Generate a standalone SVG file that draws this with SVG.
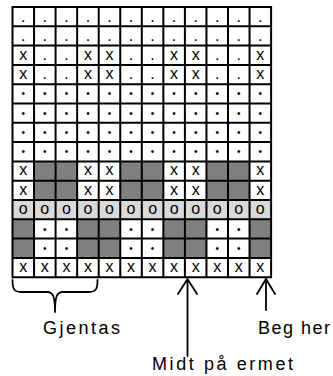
<svg xmlns="http://www.w3.org/2000/svg" width="333" height="376" viewBox="0 0 333 376">
<style>
.c{font-family:"Liberation Sans",Arial,sans-serif;font-size:16px;fill:#000;text-anchor:middle}
.b{font-family:"Liberation Sans",Arial,sans-serif;font-size:10px;fill:#000;text-anchor:middle}
.lbl{font-family:"Liberation Sans",Arial,sans-serif;font-size:18px;fill:#000}
.dk{fill:#808080}
.lt{fill:#d9d9d9}
.grid{stroke:#000;stroke-width:2;fill:none}
.ln{stroke:#000;stroke-width:1.8;fill:none;stroke-linecap:round;stroke-linejoin:round}
</style>
<rect width="333" height="376" fill="#fff"/>
<g id="chart">
<g id="fills">
<rect class="dk" x="34.05" y="161.4" width="43.1" height="38.6"/>
<rect class="dk" x="120.25" y="161.4" width="43.1" height="38.6"/>
<rect class="dk" x="206.45" y="161.4" width="43.1" height="38.6"/>
<rect class="lt" x="12.5" y="200" width="258.6" height="19.3"/>
<rect class="dk" x="12.5" y="219.3" width="21.55" height="38.6"/>
<rect class="dk" x="77.15" y="219.3" width="43.1" height="38.6"/>
<rect class="dk" x="163.35" y="219.3" width="43.1" height="38.6"/>
<rect class="dk" x="249.55" y="219.3" width="21.55" height="38.6"/>
</g>
<g id="row1"><text class="c" x="23.3 44.8 66.4 87.9 109.5 131 152.6 174.1 195.7 217.2 238.8 260.3" y="21.5">............</text></g>
<g id="row2"><text class="c" x="23.3 44.8 66.4 87.9 109.5 131 152.6 174.1 195.7 217.2 238.8 260.3" y="40.8">............</text></g>
<g id="row3"><text class="c" x="23.3 44.8 66.4 87.9 109.5 131 152.6 174.1 195.7 217.2 238.8 260.3" y="59.6">x..xx..xx..x</text></g>
<g id="row4"><text class="c" x="23.3 44.8 66.4 87.9 109.5 131 152.6 174.1 195.7 217.2 238.8 260.3" y="78.9">x..xx..xx..x</text></g>
<g id="row5"><text class="b" x="23.3 44.8 66.4 87.9 109.5 131 152.6 174.1 195.7 217.2 238.8 260.3" y="97.4">••••••••••••</text></g>
<g id="row6"><text class="b" x="23.3 44.8 66.4 87.9 109.5 131 152.6 174.1 195.7 217.2 238.8 260.3" y="116.7">••••••••••••</text></g>
<g id="row7"><text class="b" x="23.3 44.8 66.4 87.9 109.5 131 152.6 174.1 195.7 217.2 238.8 260.3" y="136">••••••••••••</text></g>
<g id="row8"><text class="b" x="23.3 44.8 66.4 87.9 109.5 131 152.6 174.1 195.7 217.2 238.8 260.3" y="155.3">••••••••••••</text></g>
<g id="row9"><text class="c" x="23.3 87.9 109.5 174.1 195.7 260.3" y="175.4">xxxxxx</text></g>
<g id="row10"><text class="c" x="23.3 87.9 109.5 174.1 195.7 260.3" y="194.7">xxxxxx</text></g>
<g id="row11"><text class="c" x="23.3 44.8 66.4 87.9 109.5 131 152.6 174.1 195.7 217.2 238.8 260.3" y="214.2">oooooooooooo</text></g>
<g id="row12"><text class="b" x="44.8 66.4 131 152.6 217.2 238.8" y="232.6">••••••</text></g>
<g id="row13"><text class="b" x="44.8 66.4 131 152.6 217.2 238.8" y="251.9">••••••</text></g>
<g id="row14"><text class="c" x="23.3 44.8 66.4 87.9 109.5 131 152.6 174.1 195.7 217.2 238.8 260.3" y="272">xxxxxxxxxxxx</text></g>
<path class="grid" d="M12.5 7V277.2M34.05 7V277.2M55.6 7V277.2M77.15 7V277.2M98.7 7V277.2M120.25 7V277.2M141.8 7V277.2M163.35 7V277.2M184.9 7V277.2M206.45 7V277.2M228 7V277.2M249.55 7V277.2M271.1 7V277.2M11.5 7H272.1M11.5 26.3H272.1M11.5 45.6H272.1M11.5 64.9H272.1M11.5 84.2H272.1M11.5 103.5H272.1M11.5 122.8H272.1M11.5 142.1H272.1M11.5 161.4H272.1M11.5 180.7H272.1M11.5 200H272.1M11.5 219.3H272.1M11.5 238.6H272.1M11.5 257.9H272.1M11.5 277.2H272.1"/>
</g>
<g id="connectors">
<path class="ln" d="M12.5 280C12.5 289 14 292 21 292L47 292C53 292 55 296 55 312C55 296 57 292 63 292L89 292C96 292 97.5 289 97.5 280"/>
<path class="ln" d="M187.5 279V356M178 294L187.5 279L197 294"/>
<path class="ln" d="M266 279V310M257 294L266 279L275 294"/>
</g>
<g id="labels">
<text class="lbl" x="43" y="334" textLength="77" lengthAdjust="spacing">Gjentas</text>
<text class="lbl" x="258" y="334" textLength="72" lengthAdjust="spacing">Beg her</text>
<text class="lbl" x="152" y="370" textLength="141" lengthAdjust="spacing">Midt på ermet</text>
</g>
</svg>
